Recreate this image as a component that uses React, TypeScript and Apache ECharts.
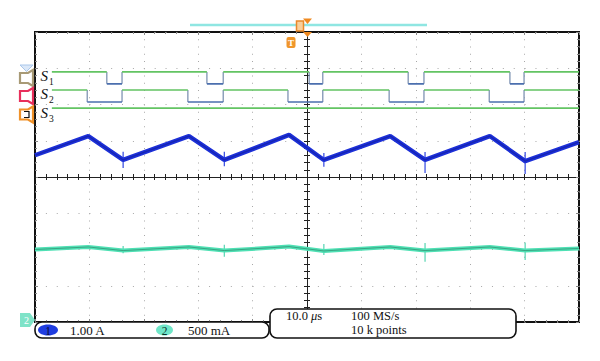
import React, { useEffect, useRef } from 'react';
import * as echarts from 'echarts';

// Horizontal: time in µs (10.0 µs/div, 10 div). Vertical: screen divisions (8 div, centre = 0).
const timeMin = -50;
const timeMax = 50;
const divMin = -4;
const divMax = 4;

// Digital gate signals
const digitalStart = -46.9;
const s1FallTimes = [-36.8, -18.4, 0.4, 18.6, 37.3];
const s1RiseTimes = [-34.0, -15.4, 2.9, 21.5, 39.9];
const s2FallTimes = [-40.4, -21.9, -3.5, 15.1, 33.5];
const s2RiseTimes = [-34.0, -15.4, 2.9, 21.5, 39.9];
const s1High = 2.9;
const s1Low = 2.57;
const s2High = 2.4;
const s2Low = 2.07;
const s3Level = 1.9;

// Channel 1 (1.00 A/div) triangular current
const ch1Times = [-50, -40.2, -33.8, -21.7, -15.2, -3.3, 3.1, 15.3, 21.7, 33.6, 40.1, 50];
const ch1Values = [0.6, 1.13, 0.47, 1.13, 0.47, 1.16, 0.47, 1.13, 0.47, 1.13, 0.44, 0.965];
const ch1SpikeTimes = [-33.8, -15.2, 3.1, 21.7, 40.1];
const ch1SpikeTops = [0.7, 0.7, 0.66, 0.69, 0.69];
const ch1SpikeBottoms = [0.25, 0.3, 0.28, 0.11, 0.08];

// Channel 2 (500 mA/div) nearly flat current
const ch2Times = [-50, -40.2, -33.8, -21.7, -15.2, -3.3, 3.1, 15.3, 21.7, 33.6, 40.1, 50];
const ch2Values = [-2.0, -1.93, -2.03, -1.93, -2.03, -1.92, -2.04, -1.93, -2.03, -1.93, -2.03, -1.97];
const ch2SpikeTops = [-1.9, -1.87, -1.85, -1.82, -1.81];
const ch2SpikeBottoms = [-2.1, -2.2, -2.15, -2.34, -2.29];

const SERIF = '"Liberation Serif", "DejaVu Serif", serif';

function buildDigital(falls: number[], rises: number[], hi: number, lo: number, start: number, end: number) {
  const high: any[] = [];
  const low: any[] = [];
  const edges: any[] = [];
  let t = start;
  for (let i = 0; i < falls.length; i++) {
    high.push([t, hi], [falls[i], hi], [falls[i], '-']);
    edges.push([falls[i], hi], [falls[i], lo], [falls[i], '-']);
    low.push([falls[i], lo], [rises[i], lo], [rises[i], '-']);
    edges.push([rises[i], lo], [rises[i], hi], [rises[i], '-']);
    t = rises[i];
  }
  high.push([t, hi], [end, hi]);
  return { high, low, edges };
}

function spikes(times: number[], tops: number[], bottoms: number[]) {
  const out: any[] = [];
  times.forEach((t, i) => {
    out.push([t, tops[i]], [t, bottoms[i]], [t, '-']);
  });
  return out;
}

const lineSeries = (data: any[], color: string, width: number, z: number, opacity = 1) => ({
  type: 'line',
  data,
  xAxisIndex: 0,
  yAxisIndex: 0,
  showSymbol: false,
  symbol: 'none',
  connectNulls: false,
  lineStyle: { color, width, opacity },
  z,
  silent: true,
});

function speaker(cy: number, color: string, inner: boolean) {
  const pts = [[20, cy - 5], [28, cy - 5], [33, cy - 8], [33, cy + 8], [28, cy + 5], [20, cy + 5]];
  const els: any[] = [
    { type: 'polygon', shape: { points: pts }, style: { fill: '#fff', stroke: color, lineWidth: 2.2 }, z: 50 },
  ];
  if (inner) {
    els.push({
      type: 'polyline',
      shape: { points: [[24, cy - 3], [29, cy - 3], [29, cy + 3], [24, cy + 3]] },
      style: { fill: 'none', stroke: '#111', lineWidth: 1.2 },
      z: 51,
    });
  }
  return els;
}

function sLabel(cy: number, n: string) {
  return [
    { type: 'text', x: 40.5, y: cy - 1, z: 50, style: { text: 'S', fill: '#111', font: `italic 15px ${SERIF}`, textVerticalAlign: 'middle', verticalAlign: 'middle' } },
    { type: 'text', x: 49, y: cy + 5, z: 50, style: { text: n, fill: '#111', font: `9.5px ${SERIF}`, textVerticalAlign: 'middle', verticalAlign: 'middle' } },
  ];
}

function txt(x: number, y: number, text: string, size = 12, fill = '#111', align = 'left') {
  return {
    type: 'text', x, y, z: 110,
    style: { text, fill, font: `${size}px ${SERIF}`, textAlign: align, align, textVerticalAlign: 'middle', verticalAlign: 'middle' },
  };
}

export default function App() {
  const ref = useRef<HTMLDivElement>(null);
  useEffect(() => {
    if (!ref.current) return;
    const chart = echarts.init(ref.current, undefined, { renderer: 'svg' });

    const d1 = buildDigital(s1FallTimes, s1RiseTimes, s1High, s1Low, digitalStart, timeMax);
    const d2 = buildDigital(s2FallTimes, s2RiseTimes, s2High, s2Low, digitalStart, timeMax);
    const ch1 = ch1Times.map((t, i) => [t, ch1Values[i]]);
    const ch2 = ch2Times.map((t, i) => [t, ch2Values[i]]);

    const baseX = { type: 'value', min: timeMin, max: timeMax, interval: 10, axisLabel: { show: false }, splitLine: { show: false } };
    const baseY = { type: 'value', min: divMin, max: divMax, interval: 1, axisLabel: { show: false }, splitLine: { show: false } };
    const dark = { color: '#222', width: 1 };
    const light = { color: '#888', width: 1 };

    const option: any = {
      animation: false,
      grid: { left: 35, top: 32, width: 544, height: 290, show: true, borderColor: '#111', borderWidth: 2, backgroundColor: '#fff' },
      xAxis: [
        {
          ...baseX, position: 'bottom',
          axisLine: { show: true, onZero: true, onZeroAxisIndex: 0, lineStyle: dark },
          axisTick: { show: true, inside: true, length: 3, lineStyle: dark },
          minorTick: { show: true, splitNumber: 5, length: 3, lineStyle: dark },
          splitLine: { show: true, lineStyle: { color: '#a8a8a8', width: 1, type: [1, 6.25] } },
        },
        {
          ...baseX, position: 'bottom',
          axisLine: { show: true, onZero: true, onZeroAxisIndex: 0, lineStyle: dark },
          axisTick: { show: true, inside: false, length: 3, lineStyle: dark },
          minorTick: { show: true, splitNumber: 5, length: 3, lineStyle: dark },
        },
        {
          ...baseX, position: 'top',
          axisLine: { show: false, onZero: false },
          axisTick: { show: true, inside: true, length: 3, lineStyle: light },
          minorTick: { show: true, splitNumber: 5, length: 2, lineStyle: light },
        },
        {
          ...baseX, position: 'bottom',
          axisLine: { show: false, onZero: false },
          axisTick: { show: true, inside: true, length: 3, lineStyle: light },
          minorTick: { show: true, splitNumber: 5, length: 2, lineStyle: light },
        },
      ],
      yAxis: [
        {
          ...baseY, position: 'left',
          axisLine: { show: true, onZero: true, onZeroAxisIndex: 0, lineStyle: dark },
          axisTick: { show: true, inside: true, length: 3, lineStyle: dark },
          minorTick: { show: true, splitNumber: 5, length: 3, lineStyle: dark },
          splitLine: { show: true, lineStyle: { color: '#a8a8a8', width: 1, type: [1, 9.88] } },
        },
        {
          ...baseY, position: 'left',
          axisLine: { show: true, onZero: true, onZeroAxisIndex: 0, lineStyle: dark },
          axisTick: { show: true, inside: false, length: 3, lineStyle: dark },
          minorTick: { show: true, splitNumber: 5, length: 3, lineStyle: dark },
        },
        {
          ...baseY, position: 'left',
          axisLine: { show: false, onZero: false },
          axisTick: { show: true, inside: true, length: 3, lineStyle: light },
          minorTick: { show: true, splitNumber: 5, length: 2, lineStyle: light },
        },
        {
          ...baseY, position: 'right',
          axisLine: { show: false, onZero: false },
          axisTick: { show: true, inside: true, length: 3, lineStyle: light },
          minorTick: { show: true, splitNumber: 5, length: 2, lineStyle: light },
        },
      ],
      series: [
        lineSeries(d1.edges, '#7f93b3', 1.3, 3),
        lineSeries(d1.high, '#63c463', 1.6, 4),
        lineSeries(d1.low, '#4b6fae', 1.6, 4),
        lineSeries(d2.edges, '#7f93b3', 1.3, 3),
        lineSeries(d2.high, '#63c463', 1.6, 4),
        lineSeries(d2.low, '#4b6fae', 1.6, 4),
        lineSeries([[digitalStart, s3Level], [timeMax, s3Level]], '#63c463', 1.6, 4),
        lineSeries(spikes(ch1SpikeTimes, ch1SpikeTops, ch1SpikeBottoms), '#3046e0', 1.2, 5),
        lineSeries(ch1, '#1d30d8', 4.5, 6),
        lineSeries(ch1, '#0f1c96', 1.3, 7, 0.55),
        lineSeries(spikes(ch1SpikeTimes, ch2SpikeTops, ch2SpikeBottoms), '#55d6b2', 1.2, 5),
        lineSeries(ch2, '#4fe0b4', 4, 6),
        lineSeries(ch2, '#1f5e48', 1, 7, 0.45),
      ],
      graphic: [
        // top trigger bar and markers
        { type: 'line', shape: { x1: 190, y1: 25, x2: 427, y2: 25 }, style: { stroke: '#8fe6e2', lineWidth: 2.5 }, z: 60 },
        { type: 'rect', shape: { x: 296.5, y: 21, width: 7, height: 10 }, style: { fill: '#f8cf9a', stroke: '#e8892a', lineWidth: 1.5 }, z: 61 },
        { type: 'polygon', shape: { points: [[303, 18.5], [312, 18.5], [307.5, 24]] }, style: { fill: '#f08a20' }, z: 61 },
        { type: 'polygon', shape: { points: [[303, 32], [312, 32], [307.5, 37]] }, style: { fill: '#f08a20' }, z: 61 },
        { type: 'rect', shape: { x: 286.5, y: 37, width: 9, height: 11, r: 2 }, style: { fill: '#f0962a' }, z: 61 },
        { type: 'text', x: 291, y: 42.5, z: 62, style: { text: 'T', fill: '#fff', font: `bold 9px ${SERIF}`, textAlign: 'center', align: 'center', textVerticalAlign: 'middle', verticalAlign: 'middle' } },
        // left channel markers
        { type: 'polygon', shape: { points: [[20, 65], [33, 65], [26.5, 71.5]] }, style: { fill: '#dbe8f8', stroke: '#a9c6ea', lineWidth: 1 }, z: 50 },
        ...speaker(78, '#a89a76', false),
        ...speaker(96, '#e8305c', false),
        ...speaker(114.5, '#f0922a', true),
        ...sLabel(77, '1'),
        ...sLabel(95, '2'),
        ...sLabel(113.5, '3'),
        // ch2 ground marker
        { type: 'polygon', shape: { points: [[20, 313], [30, 313], [35, 320], [30, 327], [20, 327]] }, style: { fill: '#7fe3c8' }, z: 50 },
        { type: 'text', x: 26.5, y: 320, z: 51, style: { text: '2', fill: '#fff', font: `10px ${SERIF}`, textAlign: 'center', align: 'center', textVerticalAlign: 'middle', verticalAlign: 'middle' } },
        // bottom info boxes
        { type: 'rect', shape: { x: 35, y: 322, width: 234, height: 16, r: 7 }, style: { fill: '#fff', stroke: '#111', lineWidth: 1.6 }, z: 100 },
        { type: 'ellipse', shape: { cx: 48, cy: 330, rx: 10, ry: 5.5 }, style: { fill: '#1f3de0' }, z: 105 },
        txt(48, 330.5, '1', 11.5, '#0a0a30', 'center'),
        txt(70, 330.5, '1.00 A', 13),
        { type: 'ellipse', shape: { cx: 164.5, cy: 330, rx: 8.5, ry: 5.5 }, style: { fill: '#6fe6c8' }, z: 105 },
        txt(164.5, 330.5, '2', 11.5, '#0a3028', 'center'),
        txt(188, 330.5, '500 mA', 13),
        { type: 'rect', shape: { x: 270, y: 309, width: 246, height: 29, r: 7 }, style: { fill: '#fff', stroke: '#111', lineWidth: 1.6 }, z: 100 },
        {
          type: 'text', x: 286, y: 316, z: 110,
          style: {
            text: '10.0 {i|μ}s', fill: '#111', font: `12.5px ${SERIF}`, textVerticalAlign: 'middle', verticalAlign: 'middle',
            rich: { i: { fontStyle: 'italic', fontSize: 12.5, fontFamily: SERIF } },
          },
        },
        txt(351, 316, '100 MS/s', 12.5),
        txt(351, 329.5, '10 k points', 12.5),
      ],
    };
    chart.setOption(option);
    return () => chart.dispose();
  }, []);
  return <div ref={ref} style={{ position: 'fixed', left: 0, top: 0, width: 600, height: 361, background: '#fff' }} />;
}
